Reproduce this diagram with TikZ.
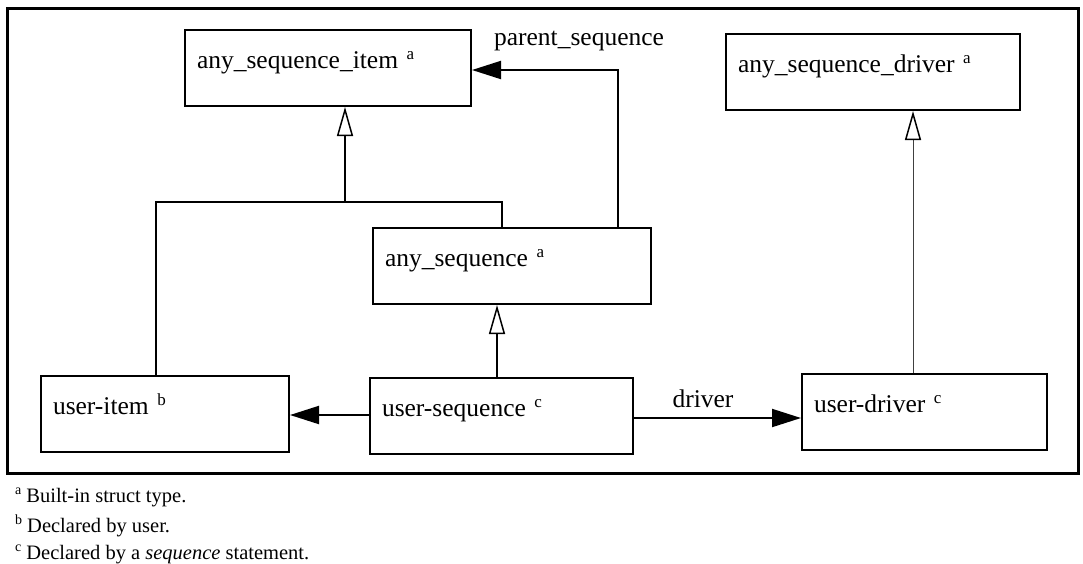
\documentclass[tikz,border=0pt]{standalone}
\usepackage{fontspec}
\setmainfont{Liberation Serif}
\usetikzlibrary{arrows.meta}
\newcommand{\boxsup}[1]{\raisebox{9pt}{\fontsize{17}{20}\selectfont #1}}
\newcommand{\footsup}[1]{\raisebox{8pt}{\fontsize{14}{16}\selectfont #1}\hspace{5pt}}
\begin{document}
\begin{tikzpicture}[x=1pt,y=-1pt,
  box/.style={draw, line width=2pt, anchor=north west, inner xsep=12pt, inner ysep=0pt,
    text height=20pt, text depth=20pt, align=left, font=\fontsize{25.5}{30}\selectfont},
  conn/.style={line width=2pt},
  assoc/.style={conn, -{Triangle[length=29pt,width=18pt]}},
  inherit/.style={conn, -{Triangle[open,length=29pt,width=16pt,fill=white,line width=1.5pt]}},
  thininherit/.style={line width=1pt, black!75, -{Triangle[open,length=29pt,width=16pt,fill=white,line width=1.5pt,color=black]}},
  lbl/.style={font=\fontsize{25.5}{30}\selectfont, inner sep=0pt},
  foot/.style={font=\fontsize{20.5}{24}\selectfont, anchor=base west, inner sep=0pt}]
\useasboundingbox (0,0) rectangle (1083,563);
\draw[line width=3pt] (7,8) rectangle (1078,473);
% boxes
\node[box, minimum width=286pt, minimum height=76pt, text width=262pt] (asi) at (184,29) {any\_sequence\_item \boxsup{a}};
\node[box, minimum width=294pt, minimum height=76pt, text width=270pt] (asd) at (725,33) {any\_sequence\_driver \boxsup{a}};
\node[box, minimum width=278pt, minimum height=76pt, text width=254pt] (as) at (372,227) {any\_sequence \boxsup{a}};
\node[box, minimum width=248pt, minimum height=76pt, text width=224pt] (ui) at (40,375) {user-item \boxsup{b}};
\node[box, minimum width=263pt, minimum height=76pt, text width=239pt] (us) at (369,377) {user-sequence \boxsup{c}};
\node[box, minimum width=245pt, minimum height=76pt, text width=221pt] (ud) at (801,373) {user-driver \boxsup{c}};
% inheritance bus
\coordinate (busL) at (156,202);
\coordinate (busR) at (502,202);
\coordinate (busM) at (345,202);
\draw[conn] (ui.north -| busL) -- (busL) -- (busR) -- (as.north -| busR);
\draw[inherit] (busM) -- (asi.south -| busM);
% parent_sequence
\coordinate (ps) at (618,70);
\draw[assoc] (as.north -| ps) -- (ps) -- (asi.east |- ps);
\node[lbl, anchor=base] (pslbl) at (579,45) {parent\_sequence};
% user-sequence -> any_sequence
\coordinate (usx) at (497,0);
\draw[inherit] (us.north -| usx) -- (as.south -| usx);
% user-sequence -> user-item
\coordinate (uiy) at (0,415);
\draw[assoc] (us.west |- uiy) -- (ui.east |- uiy);
% user-sequence -> user-driver
\coordinate (udy) at (0,418);
\draw[assoc] (us.east |- udy) -- (ud.west |- udy);
\node[lbl, anchor=base] (drvlbl) at (703,407) {driver};
% user-driver -> any_sequence_driver
\coordinate (udx) at (913,0);
\draw[thininherit] (ud.north -| udx) -- (asd.south -| udx);
% footnotes
\node[foot] (fa) at (15,502) {\footsup{a}Built-in struct type.};
\node[foot] (fb) at (15,532) {\footsup{b}Declared by user.};
\node[foot] (fc) at (15,559) {\footsup{c}Declared by a \textit{sequence} statement.};
\end{tikzpicture}
\end{document}
